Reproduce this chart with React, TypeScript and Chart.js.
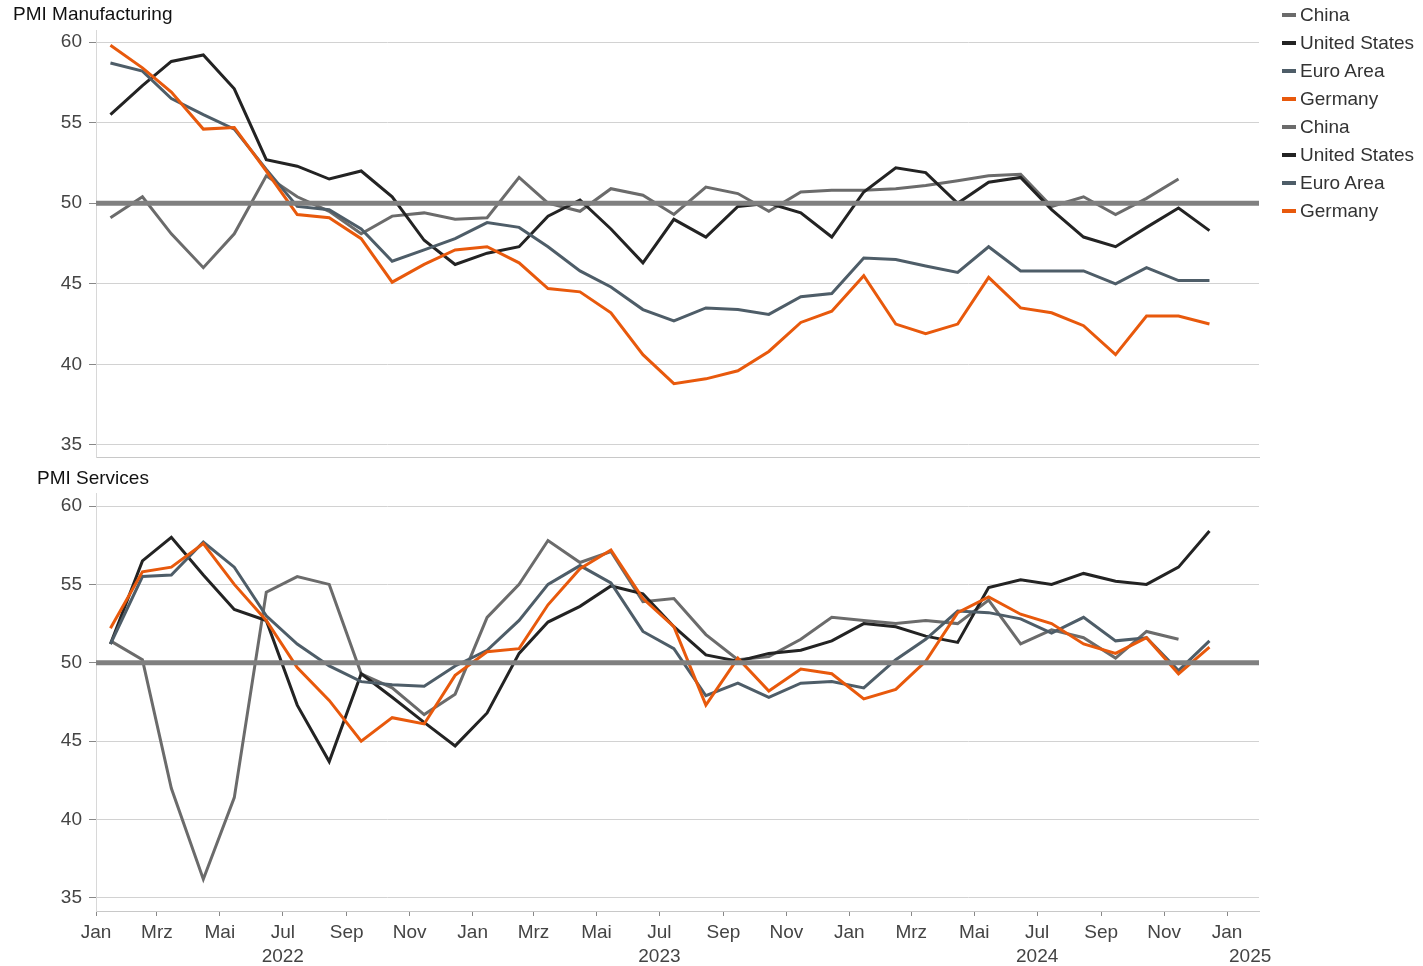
import React, { useEffect, useRef } from 'react';
import { Chart, registerables } from 'chart.js';

Chart.register(...registerables);

// ---- data ----
const months = [
  '2022-01', '2022-02', '2022-03', '2022-04', '2022-05', '2022-06', '2022-07', '2022-08', '2022-09', '2022-10', '2022-11', '2022-12',
  '2023-01', '2023-02', '2023-03', '2023-04', '2023-05', '2023-06', '2023-07', '2023-08', '2023-09', '2023-10', '2023-11', '2023-12',
  '2024-01', '2024-02', '2024-03', '2024-04', '2024-05', '2024-06', '2024-07', '2024-08', '2024-09', '2024-10', '2024-11', '2024-12',
];

const seriesNames = ['China', 'United States', 'Euro Area', 'Germany'];
const seriesColors = ['#6b6b6b', '#232323', '#4e5d68', '#e8590c'];

const mfgChina = [49.1, 50.4, 48.1, 46.0, 48.1, 51.7, 50.4, 49.5, 48.1, 49.2, 49.4, 49.0, 49.1, 51.6, 50.0, 49.5, 50.9, 50.5, 49.3, 51.0, 50.6, 49.5, 50.7, 50.8, 50.8, 50.9, 51.1, 51.4, 51.7, 51.8, 49.8, 50.4, 49.3, 50.3, 51.5, null];
const mfgUS = [55.5, 57.3, 58.8, 59.2, 57.1, 52.7, 52.3, 51.5, 52.0, 50.4, 47.7, 46.2, 46.9, 47.3, 49.2, 50.2, 48.4, 46.3, 49.0, 47.9, 49.8, 50.0, 49.4, 47.9, 50.7, 52.2, 51.9, 50.0, 51.3, 51.6, 49.6, 47.9, 47.3, 48.5, 49.7, 48.3];
const mfgEuro = [58.7, 58.2, 56.5, 55.5, 54.6, 52.1, 49.8, 49.6, 48.4, 46.4, 47.1, 47.8, 48.8, 48.5, 47.3, 45.8, 44.8, 43.4, 42.7, 43.5, 43.4, 43.1, 44.2, 44.4, 46.6, 46.5, 46.1, 45.7, 47.3, 45.8, 45.8, 45.8, 45.0, 46.0, 45.2, 45.2];
const mfgGermany = [59.8, 58.4, 56.9, 54.6, 54.7, 52.0, 49.3, 49.1, 47.8, 45.1, 46.2, 47.1, 47.3, 46.3, 44.7, 44.5, 43.2, 40.6, 38.8, 39.1, 39.6, 40.8, 42.6, 43.3, 45.5, 42.5, 41.9, 42.5, 45.4, 43.5, 43.2, 42.4, 40.6, 43.0, 43.0, 42.5];

const svcChina = [51.4, 50.2, 42.0, 36.2, 41.4, 54.5, 55.5, 55.0, 49.3, 48.4, 46.7, 48.0, 52.9, 55.0, 57.8, 56.4, 57.1, 53.9, 54.1, 51.8, 50.2, 50.4, 51.5, 52.9, 52.7, 52.5, 52.7, 52.5, 54.0, 51.2, 52.1, 51.6, 50.3, 52.0, 51.5, null];
const svcUS = [51.2, 56.5, 58.0, 55.6, 53.4, 52.7, 47.3, 43.7, 49.3, 47.8, 46.2, 44.7, 46.8, 50.6, 52.6, 53.6, 54.9, 54.4, 52.3, 50.5, 50.1, 50.6, 50.8, 51.4, 52.5, 52.3, 51.7, 51.3, 54.8, 55.3, 55.0, 55.7, 55.2, 55.0, 56.1, 58.4];
const svcEuro = [51.2, 55.5, 55.6, 57.7, 56.1, 53.0, 51.2, 49.8, 48.8, 48.6, 48.5, 49.8, 50.8, 52.7, 55.0, 56.2, 55.1, 52.0, 50.9, 47.9, 48.7, 47.8, 48.7, 48.8, 48.4, 50.2, 51.5, 53.3, 53.2, 52.8, 51.9, 52.9, 51.4, 51.6, 49.5, 51.4];
const svcGermany = [52.2, 55.8, 56.1, 57.6, 55.0, 52.7, 49.7, 47.6, 45.0, 46.5, 46.1, 49.2, 50.7, 50.9, 53.7, 56.0, 57.2, 54.1, 52.3, 47.3, 50.3, 48.2, 49.6, 49.3, 47.7, 48.3, 50.1, 53.2, 54.2, 53.1, 52.5, 51.2, 50.6, 51.6, 49.3, 51.0];

const yTicks = [35, 40, 45, 50, 55, 60];
const referenceValue = 50;

const tickMonths = [
  '2022-01', '2022-03', '2022-05', '2022-07', '2022-09', '2022-11',
  '2023-01', '2023-03', '2023-05', '2023-07', '2023-09', '2023-11',
  '2024-01', '2024-03', '2024-05', '2024-07', '2024-09', '2024-11',
  '2025-01',
];
const monthLabels: Record<string, string> = { '01': 'Jan', '03': 'Mrz', '05': 'Mai', '07': 'Jul', '09': 'Sep', '11': 'Nov' };
const yearTexts = ['2022', '2023', '2024', '2025'];
const yearMonths = ['2022-07', '2023-07', '2024-07', '2025-01'];

const axisStartMonth = '2022-01';
const axisEndMonth = '2025-02';

// ---- helpers ----
const FONT = '"Liberation Sans", Arial, Helvetica, sans-serif';
const FS = 19;
const ORIGIN = Date.UTC(2022, 0, 1);
const dayOf = (ym: string, d = 1) => {
  const [y, m] = ym.split('-').map(Number);
  return (Date.UTC(y, m - 1, d) - ORIGIN) / 86400000;
};
const X_MIN = dayOf(axisStartMonth);
const X_MAX = dayOf(axisEndMonth);

function buildDatasets(values: (number | null)[][]) {
  const ds: any[] = values.map((vals, i) => ({
    label: seriesNames[i],
    data: vals.map((v, j) => ({ x: dayOf(months[j], 15), y: v })),
    borderColor: seriesColors[i],
    backgroundColor: seriesColors[i],
    borderWidth: 3,
    pointRadius: 0,
    pointHoverRadius: 0,
    tension: 0,
    spanGaps: false,
    order: values.length - i,
  }));
  ds.push({
    label: 'ref',
    data: [{ x: X_MIN, y: referenceValue }, { x: X_MAX, y: referenceValue }],
    borderColor: '#808080',
    borderWidth: 5,
    pointRadius: 0,
    order: 0,
  });
  return ds;
}

const yearLabelPlugin = {
  id: 'yearLabels',
  afterDraw(chart: any) {
    const xs = chart.scales.x;
    const ctx = chart.ctx;
    ctx.save();
    ctx.font = `${FS}px ${FONT}`;
    ctx.fillStyle = '#444';
    ctx.textBaseline = 'middle';
    yearTexts.forEach((t, i) => {
      const px = xs.getPixelForValue(dayOf(yearMonths[i]));
      const last = i === yearTexts.length - 1;
      ctx.textAlign = last ? 'left' : 'center';
      ctx.fillText(t, last ? px + 2 : px, xs.top + 46);
    });
    ctx.restore();
  },
};

interface PanelCfg {
  title: string;
  values: (number | null)[][];
  padLeft: number;
  padBottom: number;
  titleTop: number;
  titleBottom: number;
  yMin: number;
  yMax: number;
  showX: boolean;
}

function makeConfig(c: PanelCfg): any {
  return {
    type: 'line',
    data: { datasets: buildDatasets(c.values) },
    plugins: c.showX ? [yearLabelPlugin] : [],
    options: {
      animation: false,
      responsive: false,
      devicePixelRatio: 1,
      layout: { padding: { left: c.padLeft, right: 164, top: 0, bottom: c.padBottom } },
      plugins: {
        legend: { display: false },
        tooltip: { enabled: false },
        title: {
          display: true,
          text: c.title,
          align: 'start',
          color: '#111',
          font: { family: FONT, size: FS, weight: 'normal' },
          padding: { top: c.titleTop, bottom: c.titleBottom },
        },
      },
      scales: {
        x: {
          type: 'linear',
          min: X_MIN,
          max: X_MAX,
          afterBuildTicks: (s: any) => {
            s.ticks = tickMonths.map((m) => ({ value: dayOf(m) }));
          },
          ticks: {
            display: c.showX,
            autoSkip: false,
            maxRotation: 0,
            minRotation: 0,
            padding: 5,
            color: '#444',
            font: { family: FONT, size: FS },
            callback: (v: number) => {
              const m = tickMonths.find((t) => dayOf(t) === v);
              return m ? monthLabels[m.slice(5)] : '';
            },
          },
          grid: {
            display: c.showX,
            drawOnChartArea: false,
            drawTicks: true,
            tickLength: 5,
            tickColor: '#888',
          },
          border: { display: true, color: '#c8c8c8', width: 1 },
        },
        y: {
          type: 'linear',
          min: c.yMin,
          max: c.yMax,
          afterBuildTicks: (s: any) => {
            s.ticks = yTicks.map((v) => ({ value: v }));
          },
          afterFit: (s: any) => {
            s.width = 96 - c.padLeft;
            s.paddingTop = 0;
            s.paddingBottom = 0;
          },
          ticks: {
            padding: 7,
            color: '#444',
            font: { family: FONT, size: FS },
          },
          grid: {
            color: '#d2d2d2',
            lineWidth: 1,
            drawTicks: true,
            tickLength: 7,
            tickColor: '#888',
          },
          border: { display: true, color: '#d8d8d8', width: 1 },
        },
      },
    },
  };
}

function Panel({ cfg, top, height }: { cfg: PanelCfg; top: number; height: number }) {
  const ref = useRef<HTMLCanvasElement | null>(null);
  useEffect(() => {
    if (!ref.current) return;
    const chart = new Chart(ref.current, makeConfig(cfg));
    return () => chart.destroy();
  }, []);
  return (
    <canvas
      ref={ref}
      width={1423}
      height={height}
      style={{ position: 'absolute', left: 0, top, width: 1423, height }}
    />
  );
}

const legendItems = [...seriesNames, ...seriesNames].map((n, i) => ({ name: n, color: seriesColors[i % 4] }));

export default function App() {
  const top: PanelCfg = {
    title: 'PMI Manufacturing',
    values: [mfgChina, mfgUS, mfgEuro, mfgGermany],
    padLeft: 13,
    padBottom: 14,
    titleTop: 3.6,
    titleBottom: 3.6,
    yMin: 34.25,
    yMax: 60.75,
    showX: false,
  };
  const bottom: PanelCfg = {
    title: 'PMI Services',
    values: [svcChina, svcUS, svcEuro, svcGermany],
    padLeft: 37,
    padBottom: 17.2,
    titleTop: 1.6,
    titleBottom: 2.6,
    yMin: 34.17,
    yMax: 60.83,
    showX: true,
  };
  return (
    <div style={{ position: 'fixed', left: 0, top: 0, width: 1423, height: 966, background: '#fff', overflow: 'hidden' }}>
      <Panel cfg={top} top={0} height={476} />
      <Panel cfg={bottom} top={466} height={500} />
      <div style={{ position: 'absolute', left: 1282, top: 1 }}>
        {legendItems.map((it, i) => (
          <div key={i} style={{ height: 28, display: 'flex', alignItems: 'center' }}>
            <span style={{ display: 'inline-block', width: 14, height: 4, background: it.color, marginRight: 4 }} />
            <span style={{ font: `${FS}px ${FONT}`, color: '#333', whiteSpace: 'nowrap' }}>{it.name}</span>
          </div>
        ))}
      </div>
    </div>
  );
}
